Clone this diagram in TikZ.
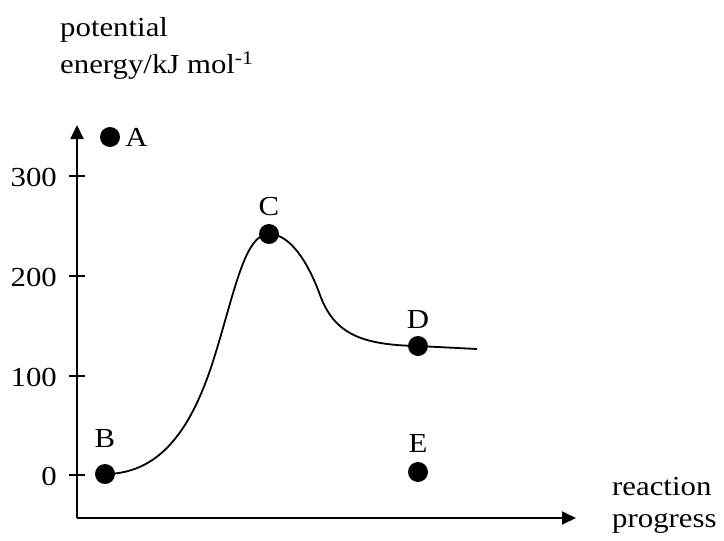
\documentclass[tikz,border=0pt]{standalone}
\usepackage{fontspec}
\setmainfont{Liberation Serif}[FakeStretch=1.12]
\usetikzlibrary{arrows.meta,positioning}

\begin{document}
\begin{tikzpicture}[x=1pt, y=-1pt, >={Triangle[length=14pt, width=13pt]},
  font=\fontsize{27.5}{32}\selectfont,
  axis/.style={line width=1.8pt},
  curve/.style={line width=1.8pt},
  dot/.style={circle, fill=black, inner sep=0pt, minimum size=20pt},
  lbl/.style={inner sep=0pt}]
\useasboundingbox (0,0) rectangle (724,541);
% axes
\coordinate (O) at (77,518);
\coordinate (ytop) at (77,125);
\coordinate (xend) at (576,518);
\draw[axis, ->] (O) -- (ytop);
\draw[axis, ->] (O) -- (xend);
\node[lbl, anchor=north west, align=left, font=\fontsize{27.5}{37}\selectfont] (ylab) at (60,17.2) {potential\\energy/kJ mol\textsuperscript{-1}};
\node[lbl, anchor=north west, align=left] (xlab) at (612,477.2) {reaction\\progress};
% ticks
\draw[axis] (69,475) -- (85,475);
\draw[axis] (69,376) -- (85,376);
\draw[axis] (69,276) -- (85,276);
\draw[axis] (69,176) -- (85,176);
\node[lbl, anchor=east] (t0) at (57,476) {0};
\node[lbl, anchor=east] (t100) at (57,377) {100};
\node[lbl, anchor=east] (t200) at (57,277) {200};
\node[lbl, anchor=east] (t300) at (57,177) {300};
% points
\node[dot] (A) at (110,137) {};
\node[dot] (B) at (105,474) {};
\node[dot] (C) at (269,234) {};
\node[dot] (D) at (418,346) {};
\node[dot] (E) at (418,472) {};
\node[lbl, right=5pt of A] (labA) {A};
\node[lbl, above=16pt of B] (labB) {B};
\node[lbl, above=8pt of C] (labC) {C};
\node[lbl, above=7pt of D] (labD) {D};
\node[lbl, above=9pt of E] (labE) {E};
% energy curve
\coordinate (tail) at (477,349);
\draw[curve] (B.center) .. controls (165,474) and (195,420) .. (215,355)
  .. controls (235,290) and (245,234) .. (C.center)
  .. controls (290,234) and (308,262) .. (320,295)
  .. controls (334,333) and (360,345) .. (D.center) -- (tail);
\end{tikzpicture}
\end{document}
